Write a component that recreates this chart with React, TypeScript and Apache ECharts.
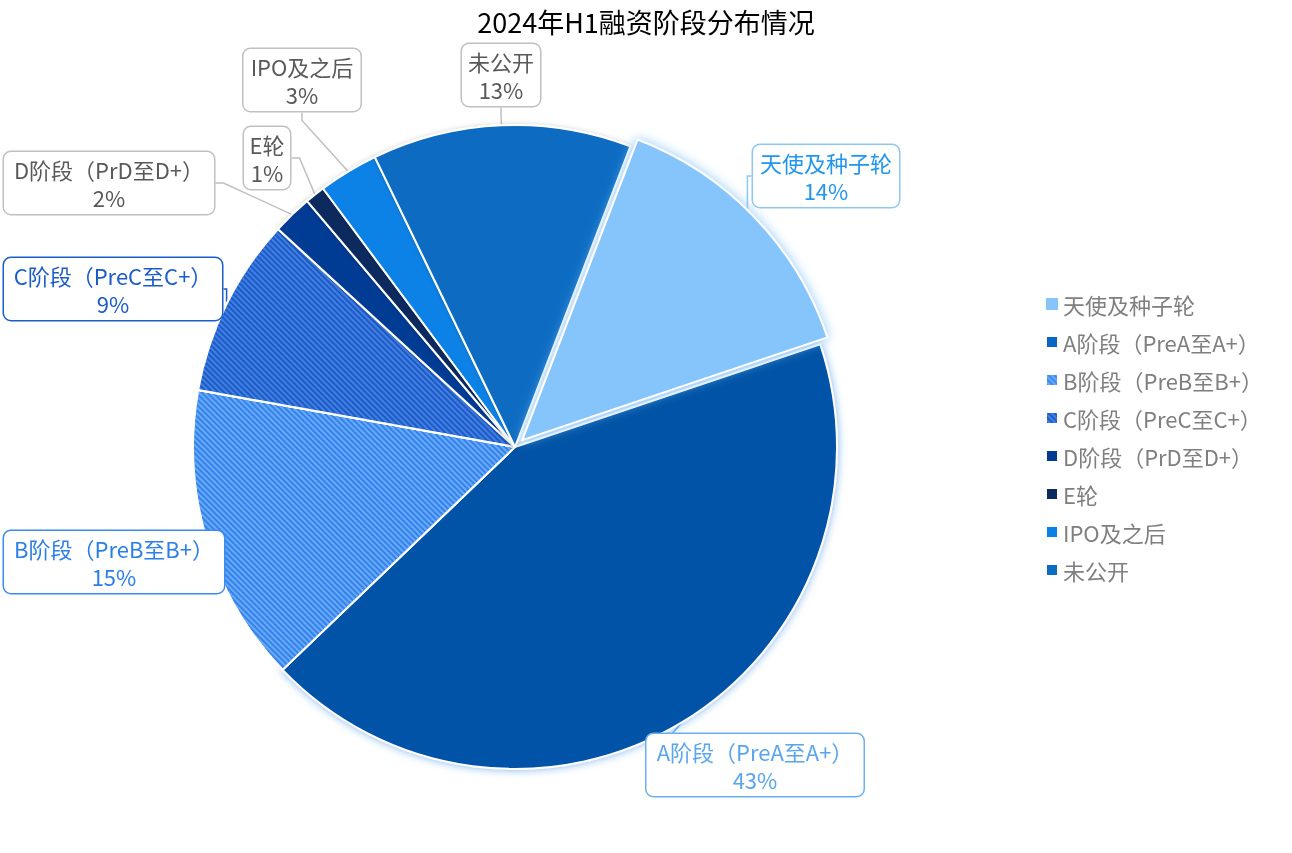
import React, { useEffect, useRef } from "react";
import * as echarts from "echarts";

const categories = [
  "天使及种子轮",
  "A阶段（PreA至A+）",
  "B阶段（PreB至B+）",
  "C阶段（PreC至C+）",
  "D阶段（PrD至D+）",
  "E轮",
  "IPO及之后",
  "未公开",
];
const shares = [14, 43, 15, 9, 2, 1, 3, 13];

const sliceColors = ["#85C5FB", "#0352A6", "#3283EE", "#1E5AC8", "#053A94", "#0C2A5E", "#0882E6", "#0C6CC2"];
const legendColors = ["#85C5FB", "#0866C6", "#3A8BF0", "#1F5FC8", "#053A94", "#0C2A5E", "#0882E6", "#0C6CC2"];
const labelTextColors = ["#2196F0", "#5AA6EE", "#2A7FE8", "#1A5CCC", "#595959", "#595959", "#595959", "#595959"];
const labelBorderColors = ["#8CC8F5", "#6AB0F0", "#3A8CF0", "#1A5CCC", "#C0C0C0", "#C0C0C0", "#C0C0C0", "#C0C0C0"];
const decalColors = [null, null, "#6AA9F6", "#4080E0", null, null, null, null];

// label box centres and content widths (layout only)
const labelPos: [number, number][] = [
  [826, 176],
  [755, 765],
  [114, 562],
  [113, 289],
  [109, 183],
  [267, 158],
  [302, 80],
  [501, 75],
];
const labelWidths = [134, 205, 208, 206, 198, 34, 105, 66];

const FONT = "'Noto Sans CJK SC', 'Noto Sans', sans-serif";
const START = 69;
const EXPLODE = 10;

export default function App() {
  const ref = useRef<HTMLDivElement>(null);
  useEffect(() => {
    if (!ref.current) return;
    const chart = echarts.init(ref.current, undefined, { renderer: "svg" });
    const cx = 515;
    const cy = 447;
    const total = shares.reduce((a, b) => a + b, 0);
    const midDeg = START - (shares[0] / total) * 180;
    const midRad = (midDeg * Math.PI) / 180;
    const ex = cx + EXPLODE * Math.cos(midRad);
    const ey = cy - EXPLODE * Math.sin(midRad);

    const data = categories.map((name, i) => {
      const item: any = {
        name,
        value: shares[i],
        itemStyle: {
          color: sliceColors[i],
          borderColor: "#fff",
          borderWidth: 2,
          shadowBlur: i === 1 ? 8 : decalColors[i] ? 0 : 5,
          shadowColor: i === 1 ? "rgba(40,130,230,0.6)" : "rgba(0,0,0,0.18)",
        },
        label: {
          color: labelTextColors[i],
          borderColor: labelBorderColors[i],
          width: labelWidths[i],
        },
        labelLine: { lineStyle: { color: labelBorderColors[i] } },
      };
      if (decalColors[i]) {
        item.itemStyle.decal = {
          symbol: "rect",
          color: decalColors[i],
          dashArrayX: [1, 0],
          dashArrayY: [1.6, 1.6],
          rotation: Math.PI / 4,
        };
      }
      if (i === 0) {
        item.itemStyle = { color: "rgba(0,0,0,0)", borderWidth: 0 };
      }
      return item;
    });

    chart.setOption({
      animation: false,
      textStyle: { fontFamily: FONT },
      title: {
        text: "2024年H1融资阶段分布情况",
        left: "center",
        top: 3,
        textStyle: { fontSize: 27, fontWeight: "normal", color: "#000", fontFamily: FONT },
      },
      legend: {
        orient: "vertical",
        left: 1040,
        top: 288,
        itemWidth: 12,
        itemHeight: 12,
        itemGap: 16,
        icon: "rect",
        selectedMode: false,
        textStyle: { fontSize: 22, color: "#7F7F7F", fontFamily: FONT, lineHeight: 22 },
        data: categories.map((name, i) => ({ name, itemStyle: { color: legendColors[i] } })),
      },
      series: [
        {
          type: "pie",
          center: [cx, cy],
          radius: 322,
          startAngle: START,
          clockwise: true,
          emphasis: { disabled: true },
          data,
          label: {
            show: true,
            position: "outside",
            formatter: "{b}\n{c}%",
            fontSize: 22,
            lineHeight: 28,
            fontFamily: FONT,
            align: "center",
            overflow: "none",
            backgroundColor: "#fff",
            borderWidth: 1.5,
            borderRadius: 7,
            padding: [3, 6],
          },
          labelLine: { show: true, length: 8, length2: 8, lineStyle: { width: 1.5 } },
          labelLayout: (params: any) => {
            const p = labelPos[params.dataIndex];
            return { x: p[0], y: p[1], align: "center", verticalAlign: "middle" };
          },
        },
        {
          type: "pie",
          center: [ex, ey],
          radius: 322,
          startAngle: START,
          clockwise: true,
          emphasis: { disabled: true },
          silent: true,
          label: { show: false },
          labelLine: { show: false },
          data: [
            {
              name: categories[0],
              value: shares[0],
              itemStyle: {
                color: sliceColors[0],
                borderColor: "#fff",
                borderWidth: 2,
                shadowBlur: 12,
                shadowColor: "rgba(133,197,251,0.9)",
              },
            },
            {
              name: "",
              value: total - shares[0],
              itemStyle: { color: "rgba(0,0,0,0)", borderWidth: 0 },
            },
          ],
        },
      ],
    });
    return () => chart.dispose();
  }, []);
  return <div ref={ref} style={{ position: "fixed", left: 0, top: 0, width: 1292, height: 853 }} />;
}
